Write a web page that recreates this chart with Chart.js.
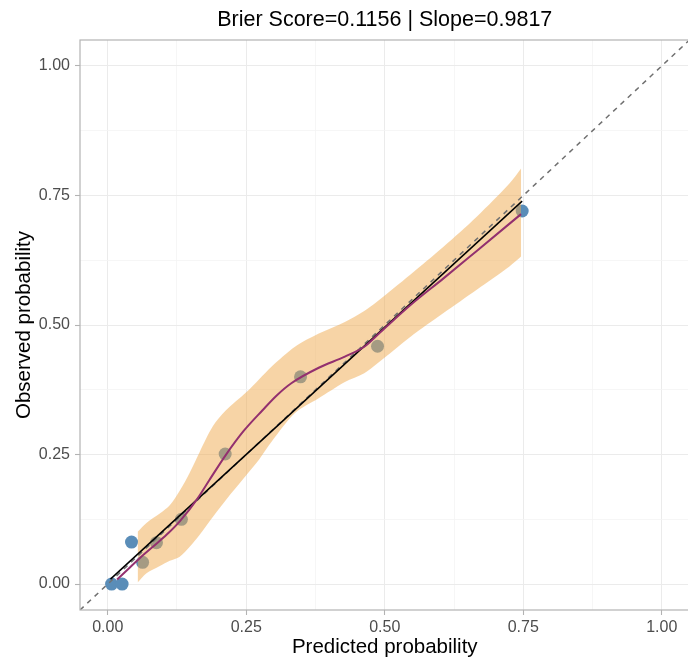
<!DOCTYPE html>
<html>
<head>
<meta charset="utf-8">
<script src="https://cdn.jsdelivr.net/npm/chart.js@4.4.1/dist/chart.umd.min.js"></script>
<style>
  html, body { margin: 0; padding: 0; overflow: hidden; background: #ffffff; }
  #wrap { width: 696px; height: 661px; position: relative; }
</style>
</head>
<body>
<div id="wrap"><canvas id="calib"></canvas></div>
<script>
// ---- labels ----
const titleText = 'Brier Score=0.1156 | Slope=0.9817';
const xTitle = 'Predicted probability';
const yTitle = 'Observed probability';

// ---- axis ticks ----
const majorTicks = [0, 0.25, 0.5, 0.75, 1];
const minorTicks = [0.125, 0.375, 0.625, 0.875];
const axisMin = -0.05;
const axisMax = 1.05;

// ---- grouped observations (predicted vs observed) ----
const obsPredicted = [0.007, 0.026, 0.043, 0.063, 0.088, 0.133, 0.212, 0.348, 0.487, 0.748];
const obsObserved  = [0.000, 0.000, 0.081, 0.042, 0.080, 0.125, 0.251, 0.400, 0.459, 0.720];

// ---- smoothed calibration curve ----
const curveX = [0.017, 0.040, 0.064, 0.089, 0.110, 0.130, 0.162, 0.183, 0.213, 0.245, 0.279, 0.305, 0.332, 0.380, 0.428, 0.463, 0.493, 0.546, 0.606, 0.666, 0.746];
const curveY = [0.009, 0.032, 0.056, 0.079, 0.099, 0.121, 0.165, 0.200, 0.249, 0.295, 0.335, 0.364, 0.388, 0.417, 0.439, 0.458, 0.487, 0.538, 0.590, 0.643, 0.714];

// ---- confidence band of the smoothed curve ----
const bandX     = [0.054, 0.070, 0.094, 0.112, 0.130, 0.148, 0.166, 0.190, 0.213, 0.250, 0.273, 0.296, 0.338, 0.380, 0.428, 0.463, 0.487, 0.546, 0.606, 0.666, 0.725, 0.746];
const bandLower = [0.003, 0.021, 0.035, 0.045, 0.053, 0.072, 0.095, 0.130, 0.162, 0.210, 0.240, 0.275, 0.330, 0.358, 0.390, 0.407, 0.426, 0.477, 0.523, 0.568, 0.613, 0.632];
const bandUpper = [0.101, 0.118, 0.136, 0.152, 0.180, 0.215, 0.255, 0.305, 0.335, 0.370, 0.395, 0.420, 0.458, 0.483, 0.506, 0.527, 0.546, 0.597, 0.651, 0.709, 0.773, 0.802];

// ---- linear calibration fit (end points) ----
const fitX = [0.005, 0.748];
const fitY = [0.0095, 0.739];

// ---- ideal reference diagonal ----
const refX = [-0.05, 1.05];
const refY = [-0.05, 1.05];

const zip = (xs, ys) => xs.map((x, i) => ({ x: x, y: ys[i] }));

const FONT = "'Liberation Sans', Arial, Helvetica, sans-serif";
const allTicks = majorTicks.concat(minorTicks).sort((a, b) => a - b);
const isMajor = v => majorTicks.some(m => Math.abs(m - v) < 1e-9);

function axisConfig(title, isX) {
  return {
    type: 'linear',
    min: axisMin,
    max: axisMax,
    afterBuildTicks: scale => { scale.ticks = allTicks.map(v => ({ value: v })); },
    afterFit: scale => {
      if (isX) scale.height = 51; else scale.width = 80;
    },
    border: { display: false },
    grid: {
      color: ctx => (ctx.tick && isMajor(ctx.tick.value)) ? '#EBEBEB' : '#F4F4F4',
      lineWidth: ctx => (ctx.tick && isMajor(ctx.tick.value)) ? 1 : 0.8,
      tickColor: ctx => (ctx.tick && isMajor(ctx.tick.value)) ? '#B3B3B3' : 'rgba(0,0,0,0)',
      tickLength: 5,
      tickWidth: 1.1
    },
    ticks: {
      autoSkip: false,
      maxRotation: 0,
      padding: isX ? 3 : 5,
      color: '#4D4D4D',
      font: { family: FONT, size: 16 },
      callback: v => isMajor(v) ? v.toFixed(2) : ''
    },
    title: {
      display: true,
      text: title,
      color: '#000000',
      font: { family: FONT, size: 20.5 },
      padding: isX ? { top: 0, bottom: 1 } : { top: 12, bottom: 0 }
    }
  };
}

// panel border drawn over the data, as in a framed plot panel
const panelBorder = {
  id: 'panelBorder',
  afterDatasetsDraw(chart) {
    const { ctx, chartArea: a } = chart;
    ctx.save();
    ctx.strokeStyle = '#B3B3B3';
    ctx.lineWidth = 1.2;
    ctx.strokeRect(a.left, a.top, a.right - a.left, a.bottom - a.top);
    ctx.restore();
  }
};

new Chart(document.getElementById('calib'), {
  type: 'line',
  data: {
    datasets: [
      {
        label: 'groups',
        data: zip(obsPredicted, obsObserved),
        showLine: false,
        pointRadius: 6.5,
        pointBorderWidth: 0,
        pointBackgroundColor: '#5A8DB8',
        pointBorderColor: '#5A8DB8',
        order: 6
      },
      {
        label: 'band lower',
        data: zip(bandX, bandLower),
        borderWidth: 0,
        borderColor: 'rgba(0,0,0,0)',
        pointRadius: 0,
        tension: 0.3,
        fill: false,
        order: 5
      },
      {
        label: 'band upper',
        data: zip(bandX, bandUpper),
        borderWidth: 0,
        borderColor: 'rgba(0,0,0,0)',
        backgroundColor: 'rgba(239,169,77,0.5)',
        pointRadius: 0,
        tension: 0.3,
        fill: '-1',
        order: 4
      },
      {
        label: 'ideal',
        data: zip(refX, refY),
        borderColor: '#707070',
        borderWidth: 1.5,
        borderDash: [5, 5],
        pointRadius: 0,
        fill: false,
        order: 3
      },
      {
        label: 'fit',
        data: zip(fitX, fitY),
        borderColor: '#000000',
        borderWidth: 1.5,
        pointRadius: 0,
        fill: false,
        order: 2
      },
      {
        label: 'smooth',
        data: zip(curveX, curveY),
        borderColor: '#93306F',
        borderWidth: 2,
        pointRadius: 0,
        cubicInterpolationMode: 'monotone',
        fill: false,
        order: 1
      }
    ]
  },
  options: {
    responsive: true,
    maintainAspectRatio: false,
    animation: false,
    events: [],
    layout: { padding: { top: 0, right: 1, bottom: 0, left: 0 } },
    plugins: {
      legend: { display: false },
      tooltip: { enabled: false },
      title: {
        display: true,
        text: titleText,
        fullSize: false,
        color: '#000000',
        font: { family: FONT, size: 21.5, weight: 'normal' },
        padding: { top: 7, bottom: 7.2 }
      }
    },
    scales: {
      x: axisConfig(xTitle, true),
      y: axisConfig(yTitle, false)
    }
  },
  plugins: [panelBorder]
});
</script>
</body>
</html>
